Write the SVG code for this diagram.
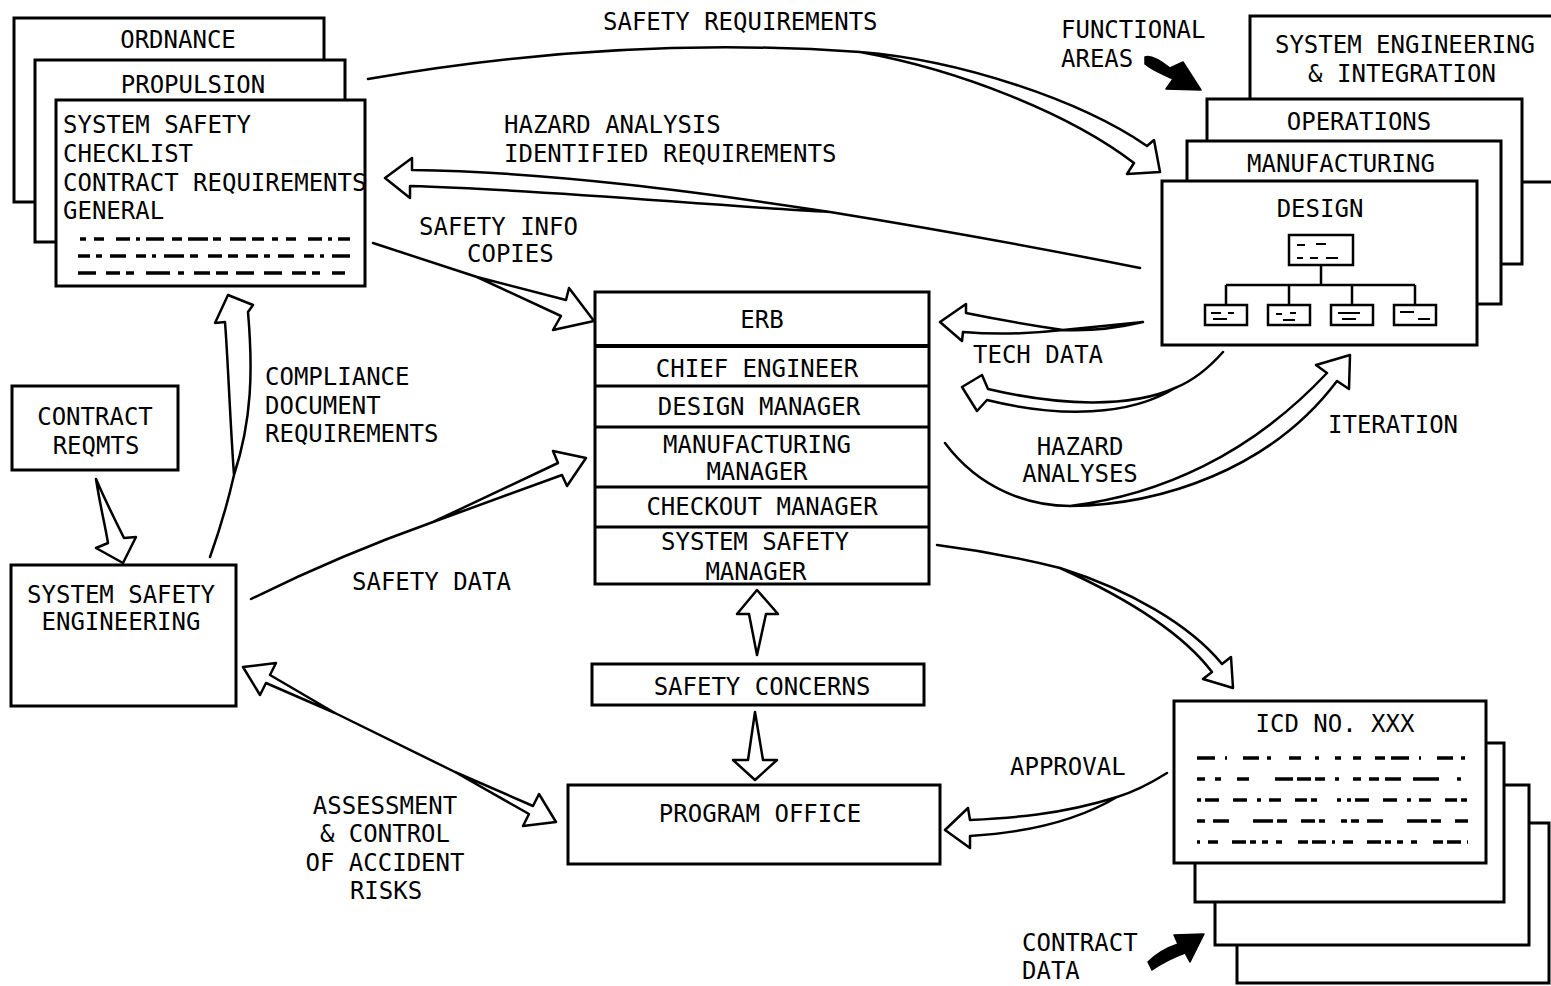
<svg xmlns="http://www.w3.org/2000/svg" width="1551" height="986" viewBox="0 0 1551 986">
<style>
.bg{fill:#fff}
.box{fill:#fff;stroke:#000;stroke-width:3}
.thin{fill:#fff;stroke:#000;stroke-width:2.5}
.ln{fill:none;stroke:#000;stroke-width:3}
.arr{fill:#fff;stroke:#000;stroke-width:2.5;stroke-linejoin:round}
.blk{fill:#000;stroke:#000;stroke-width:1.5;stroke-linejoin:round}
.scr{fill:none;stroke:#000;stroke-width:3.5}
.t{font-family:"DejaVu Sans Mono","Liberation Mono",monospace;font-size:24px;fill:#000}
.m{text-anchor:middle}
</style>
<rect class="bg" x="0" y="0" width="1551" height="986"/>

<g id="connectors">
  <!-- safety requirements -->
  <path class="arr" d="M368,79 Q620,35 860,52 C960,60 1080,100 1147,146 L1154,140 L1160,172 L1127,174 L1134,163 C1070,114 960,70 860,52 Q620,35 368,79 Z"/>
  <!-- hazard analysis identified requirements -->
  <path class="arr" d="M1140,268 Q990,238 830,212 C700,192 550,172 412,170 L412,158 L385,178 L410,198 L410,186 C550,190 700,205 830,212 Q990,238 1140,268 Z"/>
  <!-- safety info copies -->
  <path class="arr" d="M373,243 L477,277 L566,300 L569,288 L594,321 L553,330 L561,316 L477,277 Z"/>
  <!-- tech data -->
  <path class="arr" d="M1143,322 Q1100,332 1063,330 Q1010,322 966,313 L966,304 L940,322 L962,341 L963,332 Q1010,336 1063,330 Z"/>
  <!-- hazard analyses -->
  <path class="arr" d="M1223,352 Q1200,378 1175,388 C1130,408 1060,406 988,389 L982,375 L962,387 L977,411 L987,400 C1060,418 1130,416 1175,388 Q1200,378 1223,352 Z"/>
  <!-- iteration -->
  <path class="arr" d="M945,443 C980,490 1030,506 1070,506 C1160,505 1270,470 1337,381 L1349,389 L1350,355 L1316,365 L1327,373 C1250,455 1160,495 1070,506 C1030,506 980,490 945,443 Z"/>
  <!-- safety data -->
  <path class="arr" d="M251,599 Q340,555 433,522 L558,463 L553,451 L586,458 L567,486 L562,475 L433,522 Q340,555 251,599 Z"/>
  <!-- compliance document requirements -->
  <path class="arr" d="M210,557 Q225,515 234,475 C230,420 228,360 225,322 L215,323 L228,295 L253,305 L248,312 C253,370 252,420 234,475 Q225,515 210,557 Z"/>
  <!-- contract reqmts to SSE -->
  <path class="arr" d="M96,479 C100,505 105,525 108,543 L96,548 L123,563 L136,537 L124,538 C115,520 105,500 96,479 Z"/>
  <!-- assessment & control (double) -->
  <path class="arr" d="M243,667 L276,663 L270,675 L335,713 L455,772 L533,806 L539,794 L556,822 L523,826 L529,814 L455,772 L335,713 L266,683 L260,695 Z"/>
  <!-- safety concerns up to ERB -->
  <path class="arr" d="M757,655 L749,614 L737,614 L757,590 L778,614 L766,614 Z"/>
  <!-- safety concerns down to program office -->
  <path class="arr" d="M755,712 L748,760 L733,760 L755,780 L777,760 L763,760 Z"/>
  <!-- approval -->
  <path class="arr" d="M1167,773 Q1140,790 1117,797 C1060,815 1010,818 970,820 L968,808 L945,830 L970,848 L970,836 C1020,833 1075,822 1117,797 Q1140,790 1167,773 Z"/>
  <!-- SSM to ICD -->
  <path class="arr" d="M937,545 Q1000,553 1060,568 C1130,590 1190,625 1222,664 L1231,657 L1233,688 L1203,679 L1212,672 C1180,630 1120,595 1060,568 Q1000,553 937,545 Z"/>
  <!-- black pointer arrows -->
  <path class="blk" d="M1145,57 Q1152,54 1170,68 L1183,62 L1201,90 L1166,89 L1173,79 Q1152,70 1145,64 Z"/>
  <path class="blk" d="M1148,962 Q1160,950 1178,944 L1174,935 L1204,934 L1190,962 L1185,953 Q1166,960 1152,970 Z"/>
</g>

<g id="checklists">
  <rect class="box" x="14" y="18" width="310" height="184"/>
  <text class="t m" x="178" y="48">ORDNANCE</text>
  <rect class="box" x="35" y="60" width="310" height="182"/>
  <text class="t m" x="193" y="93">PROPULSION</text>
  <rect class="box" x="56" y="100" width="309" height="186"/>
  <text class="t" x="63" y="133">SYSTEM SAFETY</text>
  <text class="t" x="63" y="162">CHECKLIST</text>
  <text class="t" x="63" y="191">CONTRACT REQUIREMENTS</text>
  <text class="t" x="63" y="219">GENERAL</text>
  <path class="scr" d="M80,239 H350" stroke-dasharray="6,8 10,12 14,6 4,6 18,8 10,6 20,5 8,9 16,6 12,8"/>
  <path class="scr" d="M78,256 H350" stroke-dasharray="12,6 6,8 16,10 10,6 4,8 20,6 8,10 14,6 10,8"/>
  <path class="scr" d="M78,273 H345" stroke-dasharray="18,10 14,6 8,12 24,8 6,10 16,6 12,8 18,10"/>
</g>

<g id="functional-areas">
  <rect class="box" x="1250" y="16" width="330" height="166"/>
  <text class="t m" x="1405" y="53">SYSTEM ENGINEERING</text>
  <text class="t m" x="1402" y="82">&amp; INTEGRATION</text>
  <rect class="box" x="1207" y="99" width="315" height="165"/>
  <text class="t m" x="1359" y="130">OPERATIONS</text>
  <rect class="box" x="1187" y="141" width="314" height="163"/>
  <text class="t m" x="1341" y="172">MANUFACTURING</text>
  <rect class="box" x="1162" y="181" width="315" height="164"/>
  <text class="t m" x="1320" y="217">DESIGN</text>
  <rect class="thin" x="1289" y="235" width="64" height="30"/>
  <path class="ln" style="stroke-width:2.5" d="M1321,265 V285 M1226,285 H1415 M1226,285 V305 M1289,285 V305 M1352,285 V305 M1415,285 V305"/>
  <rect class="thin" x="1205" y="305" width="42" height="20"/>
  <rect class="thin" x="1268" y="305" width="42" height="20"/>
  <rect class="thin" x="1331" y="305" width="42" height="20"/>
  <rect class="thin" x="1394" y="305" width="42" height="20"/>
  <path class="ln" style="stroke-width:2" d="M1297,245 h8 M1316,244 h10 M1297,258 h6 M1310,258 h8 M1326,258 h12 M1211,313 h10 M1228,313 h6 M1213,319 h14 M1276,314 h6 M1290,313 h6 M1283,320 h12 M1338,313 h22 M1342,319 h14 M1400,312 h14 M1418,319 h12"/>
</g>

<g id="erb">
  <rect class="box" x="595" y="292" width="334" height="292"/>
  <path class="ln" d="M595,346 H929" style="stroke-width:4"/>
  <path class="ln" d="M595,386 H929 M595,427 H929 M595,487 H929 M595,527 H929"/>
  <text class="t m" x="762" y="328">ERB</text>
  <text class="t m" x="757" y="377">CHIEF ENGINEER</text>
  <text class="t m" x="759" y="415">DESIGN MANAGER</text>
  <text class="t m" x="757" y="453">MANUFACTURING</text>
  <text class="t m" x="757" y="480">MANAGER</text>
  <text class="t m" x="762" y="515">CHECKOUT MANAGER</text>
  <text class="t m" x="755" y="550">SYSTEM SAFETY</text>
  <text class="t m" x="756" y="580">MANAGER</text>
</g>

<g id="contract-reqmts">
  <rect class="box" x="12" y="386" width="166" height="84"/>
  <text class="t m" x="95" y="425">CONTRACT</text>
  <text class="t m" x="96" y="454">REQMTS</text>
</g>

<g id="system-safety-engineering">
  <rect class="box" x="11" y="565" width="225" height="141"/>
  <text class="t m" x="121" y="603">SYSTEM SAFETY</text>
  <text class="t m" x="121" y="630">ENGINEERING</text>
</g>

<g id="safety-concerns">
  <rect class="box" x="592" y="664" width="332" height="41"/>
  <text class="t m" x="762" y="695">SAFETY CONCERNS</text>
</g>

<g id="program-office">
  <rect class="box" x="568" y="785" width="372" height="79"/>
  <text class="t m" x="760" y="822">PROGRAM OFFICE</text>
</g>

<g id="icd">
  <rect class="box" x="1237" y="823" width="312" height="160"/>
  <rect class="box" x="1215" y="785" width="314" height="160"/>
  <rect class="box" x="1195" y="743" width="309" height="159"/>
  <rect class="box" x="1174" y="701" width="312" height="162"/>
  <text class="t m" x="1335" y="732">ICD NO. XXX</text>
  <path class="scr" d="M1197,758 H1468" stroke-dasharray="18,10 2,16 16,8 4,18 12,14 4,16 6,12 8,14 10,6"/>
  <path class="scr" d="M1197,779 H1468" stroke-dasharray="8,10 6,16 12,26 18,4 14,4 10,10 4,14 8"/>
  <path class="scr" d="M1197,800 H1468" stroke-dasharray="4,4 14,14 14,10 4,8 12,14 12,4 6,20 4,6"/>
  <path class="scr" d="M1197,821 H1468" stroke-dasharray="8,8 16,24 20,4 10,14 14,4 6,16 6,4"/>
  <path class="scr" d="M1197,842 H1468" stroke-dasharray="3,8 10,14 14,4 6,6 6,8 6,16 10,4 14,6"/>
</g>

<g id="labels">
  <text class="t" x="603" y="30">SAFETY REQUIREMENTS</text>
  <text class="t" x="1061" y="38">FUNCTIONAL</text>
  <text class="t" x="1061" y="67">AREAS</text>
  <text class="t" x="504" y="133">HAZARD ANALYSIS</text>
  <text class="t" x="504" y="162">IDENTIFIED REQUIREMENTS</text>
  <text class="t" x="419" y="235">SAFETY INFO</text>
  <text class="t" x="467" y="262">COPIES</text>
  <text class="t" x="973" y="363">TECH DATA</text>
  <text class="t m" x="1080" y="455">HAZARD</text>
  <text class="t m" x="1080" y="482">ANALYSES</text>
  <text class="t" x="1328" y="433">ITERATION</text>
  <text class="t" x="265" y="385">COMPLIANCE</text>
  <text class="t" x="265" y="414">DOCUMENT</text>
  <text class="t" x="265" y="442">REQUIREMENTS</text>
  <text class="t" x="352" y="590">SAFETY DATA</text>
  <text class="t m" x="385" y="814">ASSESSMENT</text>
  <text class="t m" x="385" y="842">&amp; CONTROL</text>
  <text class="t m" x="385" y="871">OF ACCIDENT</text>
  <text class="t m" x="386" y="899">RISKS</text>
  <text class="t" x="1010" y="775">APPROVAL</text>
  <text class="t" x="1022" y="951">CONTRACT</text>
  <text class="t" x="1022" y="979">DATA</text>
</g>
</svg>
